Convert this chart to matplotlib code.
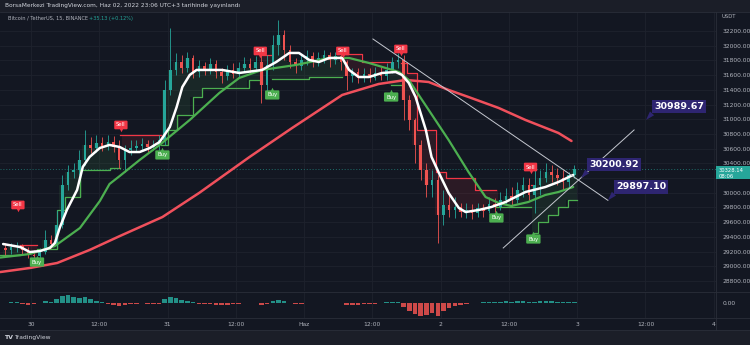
import numpy as np
import matplotlib.pyplot as plt
from matplotlib.patches import Rectangle
from matplotlib.lines import Line2D

plt.rcParams['font.family'] = ['DejaVu Sans']

# BTC/USDT 15m chart, read by eye and grouped into hourly candles
# hour 0 = 30 May 00:00, first candle starts at hour -5
first_hour = -5
opens = [29249, 29222, 29262, 29276, 29222, 29154, 29140, 29194, 29358, 29303,
         29562, 30106, 30282, 30310, 30446, 30650, 30609, 30677, 30636, 30690,
         30622, 30446, 30582, 30609, 30636, 30663, 30622, 30650, 30718, 31398,
         31670, 31778, 31697, 31833, 31642, 31724, 31670, 31751, 31642, 31588,
         31670, 31615, 31697, 31751, 31697, 31778, 31466, 31738, 32010, 32146,
         31942, 31778, 31724, 31806, 31860, 31778, 31833, 31874, 31806, 31860,
         31778, 31588, 31642, 31561, 31615, 31561, 31629, 31588, 31670, 31778,
         31806, 31262, 30990, 30650, 30310, 30106, 30174, 29698, 29834, 29766,
         29806, 29738, 29766, 29725, 29793, 29752, 29847, 29806, 29902, 29956,
         29902, 30038, 30106, 29970, 30106, 30201, 30282, 30242, 30201, 30146,
         30242]
highs = [29317, 29317, 29330, 29303, 29262, 29222, 29249, 29494, 29426, 29766,
         30242, 30378, 30405, 30582, 30854, 30758, 30786, 30758, 30786, 30772,
         30718, 30650, 30718, 30718, 30745, 30718, 30718, 30786, 31534, 32241,
         31901, 31874, 31914, 31874, 31806, 31778, 31833, 31806, 31697, 31738,
         31765, 31778, 31846, 31833, 31860, 31942, 31874, 32146, 32350, 32214,
         32010, 31833, 31874, 31942, 31914, 31914, 31942, 31914, 31914, 31942,
         31806, 31697, 31697, 31697, 31697, 31710, 31710, 31765, 31846, 31901,
         31874, 31330, 31017, 30718, 30405, 30310, 30242, 30038, 29970, 29942,
         29861, 29861, 29847, 29861, 29847, 29942, 29929, 30010, 30065, 30078,
         30146, 30214, 30201, 30310, 30310, 30405, 30378, 30337, 30310, 30282,
         30378]
lows = [29154, 29167, 29194, 29167, 29113, 29072, 29113, 29167, 29249, 29276,
        29521, 30038, 30201, 30242, 30378, 30541, 30554, 30568, 30582, 30554,
        30337, 30282, 30514, 30554, 30582, 30554, 30582, 30582, 30650, 31330,
        31602, 31629, 31642, 31561, 31574, 31602, 31615, 31561, 31493, 31534,
        31561, 31574, 31642, 31629, 31642, 31221, 31330, 31670, 31874, 31806,
        31697, 31629, 31670, 31738, 31710, 31724, 31765, 31710, 31751, 31670,
        31398, 31506, 31493, 31506, 31506, 31534, 31534, 31534, 31629, 31697,
        30990, 30854, 30405, 30174, 29942, 29942, 29317, 29562, 29670, 29657,
        29670, 29657, 29643, 29670, 29670, 29725, 29738, 29766, 29847, 29820,
        29861, 29942, 29902, 29725, 29970, 30146, 30146, 30106, 30038, 30065,
        30201]
closes = [29222, 29262, 29276, 29222, 29154, 29140, 29194, 29358, 29303, 29562,
          30106, 30282, 30310, 30446, 30650, 30609, 30677, 30636, 30690, 30622,
          30446, 30582, 30609, 30636, 30663, 30622, 30650, 30718, 31398, 31670,
          31778, 31697, 31833, 31642, 31724, 31670, 31751, 31642, 31588, 31670,
          31615, 31697, 31751, 31697, 31778, 31466, 31738, 32010, 32146, 31942,
          31778, 31724, 31806, 31860, 31778, 31833, 31874, 31806, 31860, 31778,
          31588, 31642, 31561, 31615, 31561, 31629, 31588, 31670, 31778, 31806,
          31262, 30990, 30650, 30310, 30106, 30174, 29698, 29834, 29766, 29806,
          29738, 29766, 29725, 29793, 29752, 29847, 29806, 29902, 29956, 29902,
          30038, 30106, 29970, 30106, 30201, 30282, 30242, 30201, 30146, 30242,
          30328.14]

# moving averages (hour, price)
white_t = [-4.9, -1.9, -0.2, 1.6, 3.3, 4.2, 5.1, 6.3, 8.1, 9.1, 10.3, 12.1, 13.8, 15.6,
           17.3, 19.1, 20.9, 22.6, 24.4, 25.6, 26.6, 27.9, 29.1, 31.4, 33.6, 36.6, 40.6,
           43.1, 45.4, 47.1, 48.9, 50.6, 52.4, 54.7, 55.9, 57.6, 59.4, 61.7, 64.1, 65.2,
           66.4, 67.6, 69.4, 70.4, 71.7, 73.4, 75.2, 76.4, 78.7, 80.9, 83.4, 86.9, 90.4,
           92.7, 95.3]
white_p = [29303, 29262, 29194, 29208, 29249, 29317, 29535, 29766, 30038, 30351, 30487,
           30609, 30650, 30622, 30554, 30554, 30609, 30690, 30894, 31166, 31438, 31602,
           31670, 31670, 31670, 31629, 31670, 31778, 31901, 31901, 31806, 31778, 31833,
           31833, 31670, 31574, 31574, 31629, 31642, 31602, 31493, 31302, 30854, 30487,
           30269, 29997, 29793, 29738, 29766, 29806, 29874, 30010, 30078, 30146, 30242]
green_t = [-5.4, -0.2, 4.2, 8.6, 12.1, 13.8, 15.6, 19.1, 22.6, 27.9, 33.1, 36.6, 40.6,
           46.6, 52.4, 55.9, 59.4, 64.7, 66.4, 69.9, 73.4, 76.9, 79.9, 82.2, 84.4, 87.4,
           90.4, 92.7, 95.3]
green_p = [29119, 29167, 29276, 29521, 29888, 30119, 30228, 30446, 30650, 30990, 31357,
           31561, 31670, 31738, 31833, 31833, 31765, 31642, 31534, 31126, 30718, 30282,
           29942, 29861, 29820, 29874, 29970, 30010, 30078]
red_t = [-5.4, -0.2, 4.6, 10.3, 15.6, 23.1, 29.6, 38.4, 45.9, 54.7, 61.1, 65.9, 69.9,
         73.4, 76.9, 82.2, 86.9, 92.7, 95.0]
red_p = [28922, 28977, 29045, 29222, 29411, 29670, 30000, 30486, 30881, 31330, 31479,
         31534, 31506, 31398, 31302, 31153, 30990, 30813, 30704]

# trailing stop band: start hour, end hour, level, side
band_start = [-5.4, -1.9, 1.05, 4.55, 5.96, 8.58, 13.84, 15.7, 22.9, 24.0, 25.6, 28.4,
              30.1, 38.4, 40.3, 42.4, 48.9, 54.7, 58.2, 63.2, 65.0, 66.0, 67.8, 71.1,
              72.9, 78.1, 81.8, 87.8, 88.3, 89.2, 90.9, 92.7, 94.4]
band_end = [-1.9, 1.05, 4.55, 5.96, 8.58, 13.84, 15.7, 22.9, 24.0, 25.6, 28.4, 30.1,
            38.4, 40.3, 42.4, 48.9, 54.7, 58.2, 63.2, 65.0, 66.0, 67.8, 71.1, 72.9,
            78.1, 81.8, 87.8, 88.3, 89.2, 90.9, 92.7, 94.4, 96.0]
band_level = [29154, 29290, 29235, 29766, 29942, 30310, 30337, 30786, 30650, 30854,
              31058, 31302, 31425, 31534, 31874, 31548, 31574, 31888, 31778, 31466,
              31765, 31629, 30854, 30282, 30201, 30038, 29806, 30100, 29453, 29602,
              29698, 29806, 29902]
band_side = ['up', 'dn', 'up', 'up', 'up', 'up', 'up', 'dn', 'up', 'up', 'up', 'up',
             'up', 'up', 'dn', 'up', 'up', 'dn', 'dn', 'up', 'dn', 'dn', 'dn', 'dn',
             'dn', 'dn', 'up', 'dn', 'up', 'up', 'up', 'up', 'up']

sell_t = [-2.3, 15.8, 40.3, 54.8, 65.0, 87.8]
sell_p = [29834, 30922, 31928, 31928, 31955, 30350]
buy_t = [1.05, 23.1, 42.4, 63.3, 81.8, 88.3]
buy_p = [29058, 30514, 31330, 31302, 29657, 29371]

# drawn trend lines and price labels
down_line_t = [60.1, 101.4]
down_line_p = [32091, 29897.10]
up_line_t = [83.0, 106.0]
up_line_p = [29249, 30854]
callout_t = [108.1, 96.7, 101.4]
callout_p = [30989.67, 30200.92, 29897.10]

# oscillator histogram (one value per hourly candle)
osc_vals = [0.5, 1, 1, -1, -1.5, -1, 0.5, 2, 1.5, 4,
            7, 8, 6, 5, 6, 4, 2, 1, -1, -1.5,
            -3, -2, -1, -0.5, 0.5, -0.5, -1, -0.5, 4, 6,
            5, 3, 2, 1, -0.5, -1, -1, -1.5, -2, -1.5,
            -1, -0.5, 0.5, 0.5, 0.3, -1.5, -0.5, 2, 3, 2,
            0.5, -0.5, -0.5, 0.3, 0.5, 0.3, 0.5, 0.3, 0.2, -0.3,
            -2, -1.5, -1.5, -1, -0.5, -0.5, 0.3, 0.8, 1.5, 1.5,
            -4, -8, -11, -13, -12, -10, -13, -8, -5, -3,
            -1.5, -0.5, 0.3, 0.5, 1, 1.5, 1, 1.5, 2, 1.5,
            2, 2.5, 1, 1.5, 2, 2.5, 2, 1.5, 1, 1.5,
            1.5]

price_ticks = list(range(28800, 32201, 200))
time_ticks = list(range(0, 121, 12))
time_labels = ['30', '12:00', '31', '12:00', 'Haz', '12:00', '2', '12:00', '3', '12:00', '4']

# ---- colors
BG = '#131722'
GRID = '#1e222d'
TXT = '#b2b5be'
TEAL = '#26a69a'
RED = '#ef5350'
SELL = '#f23645'
BUY = '#4caf50'
PURPLE = '#2e2571'

W, H = 750, 345


def px_box(x0, y0, x1, y1):
    return [x0 / W, 1 - y1 / H, (x1 - x0) / W, (y1 - y0) / H]


fig = plt.figure(figsize=(7.5, 3.45), dpi=100)
fig.patch.set_facecolor('#1b1e28')
fig.patches.append(Rectangle((0, 1 - 330 / H), 1, 318 / H, transform=fig.transFigure,
                             facecolor=BG, edgecolor='none', zorder=-2))

ax = fig.add_axes(px_box(0, 12, 716, 291))
osc = fig.add_axes(px_box(0, 292, 716, 318), sharex=ax)
for a in (ax, osc):
    a.set_facecolor(BG)
    for s in a.spines.values():
        s.set_visible(False)
    a.tick_params(length=0)

ax.set_xlim(-5.45, 120.4)
ax.set_ylim(28664, 32458)

# grid
for tt in time_ticks:
    ax.axvline(tt, color=GRID, lw=0.6, zorder=0)
    osc.axvline(tt, color=GRID, lw=0.6, zorder=0)
for p in price_ticks:
    ax.axhline(p, color=GRID, lw=0.6, zorder=0)

o = np.array(opens)
h = np.array(highs)
l = np.array(lows)
c = np.array(closes)
t = first_hour + np.arange(len(c)) + 0.5
up = c >= o
col = np.where(up, TEAL, RED)

# band fill between trailing level and close
band_val = np.full(len(c), np.nan)
band_dir = np.array([''] * len(c), dtype=object)
for s, e, lv, sd in zip(band_start, band_end, band_level, band_side):
    m = (t >= s) & (t < e)
    band_val[m] = lv
    band_dir[m] = sd
ok = ~np.isnan(band_val)
for sd, fc in (('up', BUY), ('dn', SELL)):
    m = ok & (band_dir == sd)
    ax.bar(t[m], c[m] - band_val[m], bottom=band_val[m], width=1.0,
           color=fc, alpha=0.11, lw=0, zorder=1)

# band lines, grouped in runs of the same side
i = 0
while i < len(band_side):
    j = i
    while j + 1 < len(band_side) and band_side[j + 1] == band_side[i]:
        j += 1
    xs = band_start[i:j + 1] + [band_end[j]]
    ys = band_level[i:j + 1] + [band_level[j]]
    ax.plot(xs, ys, drawstyle='steps-post', color=BUY if band_side[i] == 'up' else SELL,
            lw=0.9, zorder=2)
    i = j + 1

# candles
ax.vlines(t, l, h, colors=col, lw=0.6, zorder=3)
body = np.maximum(np.abs(c - o), 12)
ax.bar(t, body, bottom=np.minimum(o, c), width=0.45, color=col, lw=0, zorder=3)

# moving averages
ax.plot(red_t, red_p, color='#f0505c', lw=1.8, zorder=4, solid_capstyle='round')
ax.plot(green_t, green_p, color=BUY, lw=1.6, zorder=4, solid_capstyle='round')
ax.plot(white_t, white_p, color='white', lw=1.8, zorder=5, solid_capstyle='round')

# last price line
ax.axhline(closes[-1], color=TEAL, lw=0.7, ls=(0, (1, 2)), alpha=0.6, zorder=1)

# sell / buy labels
for st, sp in zip(sell_t, sell_p):
    ax.plot(st, sp - 70, marker='v', ms=2.5, color=SELL, mec='none', zorder=6)
    ax.text(st, sp, 'Sell', fontsize=3.8, color='white', ha='center', va='center', zorder=7,
            bbox=dict(boxstyle='round,pad=0.35,rounding_size=0.2', fc=SELL, ec='none'))
for bt, bp in zip(buy_t, buy_p):
    ax.plot(bt, bp + 75, marker='^', ms=2.5, color=BUY, mec='none', zorder=6)
    ax.text(bt, bp, 'Buy', fontsize=3.8, color='white', ha='center', va='center', zorder=7,
            bbox=dict(boxstyle='round,pad=0.4,rounding_size=0.2', fc=BUY, ec='none'))

# trend lines
ax.plot(down_line_t, down_line_p, color='#c5c8d0', lw=0.7, zorder=6)
ax.plot(up_line_t, up_line_p, color='#c5c8d0', lw=0.7, zorder=6)

# price callouts
for ct, cp in zip(callout_t, callout_p):
    ax.annotate(f'{cp:.2f}', xy=(ct, cp), xytext=(8, 9), textcoords='offset pixels',
                fontsize=6.8, fontweight='bold', color='white', ha='left', va='bottom',
                zorder=8,
                bbox=dict(boxstyle='square,pad=0.25', fc=PURPLE, ec='none'),
                arrowprops=dict(arrowstyle='wedge,tail_width=0.6,shrink_factor=0.5',
                                fc=PURPLE, ec='none', relpos=(0.02, 0.1),
                                shrinkA=0, shrinkB=0))

# price axis on the right
ax.yaxis.tick_right()
ax.set_yticks(price_ticks)
ax.set_yticklabels(['' if p == 30200 else f'{p:.2f}' for p in price_ticks])
ax.tick_params(axis='y', labelsize=4.3, labelcolor=TXT, pad=5)
ax.tick_params(axis='x', labelbottom=False)

# oscillator
ov = np.array(osc_vals)
osc.bar(t, ov, width=0.8, color=np.where(ov >= 0, TEAL, RED), alpha=0.85, lw=0)
osc.set_ylim(-15, 11)
osc.yaxis.tick_right()
osc.set_yticks([0])
osc.set_yticklabels(['0.00'])
osc.tick_params(axis='y', labelsize=4.3, labelcolor=TXT, pad=5)
osc.set_xticks(time_ticks)
osc.set_xticklabels(time_labels)
osc.tick_params(axis='x', labelsize=4.3, labelcolor=TXT, pad=3)

# separators
for y in (12, 292, 318, 330):
    fig.add_artist(Line2D([0, 1], [1 - y / H] * 2, transform=fig.transFigure,
                          color='#2a2e39', lw=0.6))
fig.add_artist(Line2D([716 / W] * 2, [1 - 330 / H, 1 - 12 / H], transform=fig.transFigure,
                      color='#2a2e39', lw=0.6))

# last price box on the axis
fig.patches.append(Rectangle((716 / W, 1 - 179 / H), 34 / W, 13 / H, transform=fig.transFigure,
                             facecolor=TEAL, edgecolor='none', zorder=5))
fig.text(719 / W, 1 - 170 / H, f'{closes[-1]:.2f}', fontsize=3.8, color='white', va='center', zorder=6)
fig.text(719 / W, 1 - 176 / H, '08:06', fontsize=3.8, color='white', va='center', zorder=6)
fig.text(721 / W, 1 - 17 / H, 'USDT', fontsize=3.8, color=TXT, va='center')

# header and footer texts
fig.text(5 / W, 1 - 6 / H, 'BorsaMerkezi TradingView.com, Haz 02, 2022 23:06 UTC+3 tarihinde yayınlandı',
         fontsize=4.2, color='#d1d4dc', va='center')
fig.text(8 / W, 1 - 18.5 / H, 'Bitcoin / TetherUS, 15, BINANCE', fontsize=3.6, color=TXT, va='center')
fig.text(89 / W, 1 - 18.5 / H, '+35.13 (+0.12%)', fontsize=3.6, color=TEAL, va='center')
fig.text(4 / W, 1 - 337.5 / H, 'TV', fontsize=4.5, fontweight='bold', color='#d1d4dc', va='center')
fig.text(14 / W, 1 - 337.5 / H, 'TradingView', fontsize=4.3, color='#d1d4dc', va='center')

fig.savefig('out.png', dpi=100, facecolor=fig.get_facecolor())
